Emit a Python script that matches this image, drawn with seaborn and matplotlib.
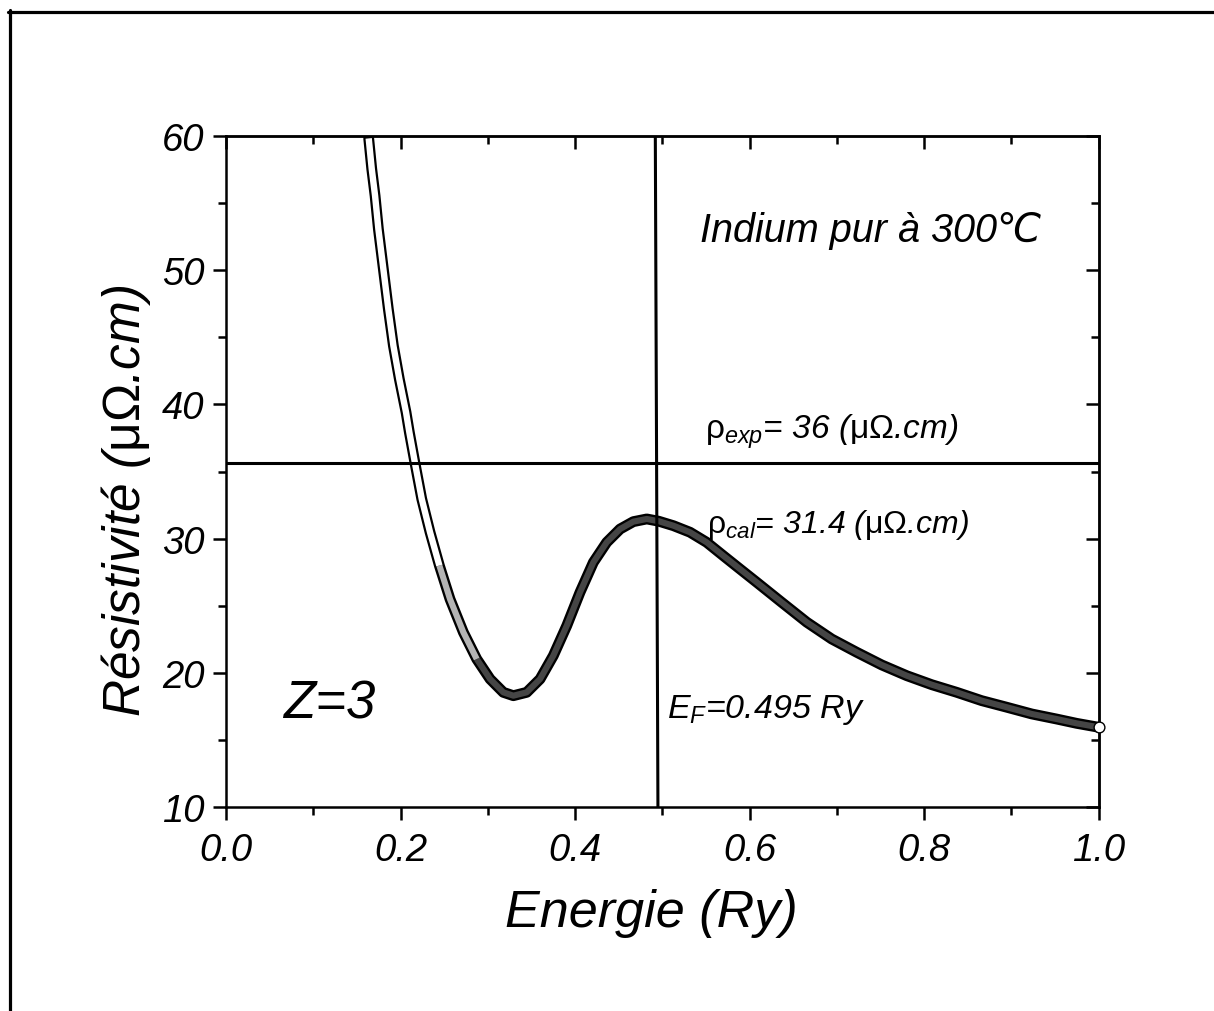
import seaborn as sns; import matplotlib.pyplot as plt
import numpy as np; import pandas as pd
from matplotlib.ticker import MultipleLocator, FormatStrFormatter

# values
energy = [0.1635, 0.1670, 0.1708, 0.1746, 0.1803, 0.1860, 0.1918, 0.1986,
          0.2063, 0.2101, 0.2166, 0.2243, 0.2338, 0.2445, 0.2567, 0.2720,
          0.2873, 0.3026, 0.3178, 0.3293, 0.3446, 0.3599, 0.3751, 0.3905,
          0.4057, 0.4210, 0.4363, 0.4516, 0.4668, 0.4822, 0.4960, 0.5127,
          0.5318, 0.5509, 0.5700, 0.5891, 0.6083, 0.6369, 0.6656, 0.6942,
          0.7229, 0.7515, 0.7802, 0.8088, 0.8375, 0.8661, 0.8948, 0.9234,
          0.9521, 0.9750, 1.0]
resist = [59.81, 57.53, 55.54, 53.06, 50.08, 47.10, 44.37, 41.89,
          39.41, 37.92, 35.61, 32.96, 30.48, 28.00, 25.50, 23.03,
          21.04, 19.55, 18.56, 18.31, 18.56, 19.55, 21.29, 23.52,
          26.01, 28.24, 29.73, 30.72, 31.27, 31.47, 31.30, 30.97,
          30.48, 29.73, 28.73, 27.74, 26.75, 25.26, 23.78, 22.53,
          21.54, 20.60, 19.80, 19.13, 18.56, 17.94, 17.45, 16.95,
          16.57, 16.25, 15.96]
rho_exp_line = 35.6
ef_x = [0.492, 0.495]
ef_y = [60, 10]

sns.set_style('ticks')
plt.rcParams['font.family'] = ['Liberation Sans', 'DejaVu Sans']
plt.rcParams['text.color'] = 'black'
plt.rcParams['axes.labelcolor'] = 'black'
plt.rcParams['xtick.color'] = 'black'
plt.rcParams['ytick.color'] = 'black'
plt.rcParams['mathtext.fontset'] = 'custom'
plt.rcParams['mathtext.rm'] = 'Liberation Sans'
plt.rcParams['mathtext.it'] = 'Liberation Sans:italic'

df = pd.DataFrame({'E': energy, 'rho': resist})
light = df[df.E <= 0.2445]
mid = df[(df.E >= 0.2445) & (df.E <= 0.2873)]
dark = df[df.E >= 0.2873]

fig = plt.figure(figsize=(12.14, 10.12), dpi=100)
ax = fig.add_axes([0.1862, 0.2013, 0.7187, 0.6635])

# curve of dense open circles -> drawn as a tube
kw = dict(x='E', y='rho', sort=False, ax=ax, solid_joinstyle='round')
sns.lineplot(data=df, color='black', lw=7.8, solid_capstyle='round', **kw)
sns.lineplot(data=dark, color='#454545', lw=4.4, solid_capstyle='butt', **kw)
sns.lineplot(data=mid, color='#b4b4b4', lw=4.4, solid_capstyle='butt', **kw)
sns.lineplot(data=light, color='white', lw=4.6, solid_capstyle='butt', **kw)
sns.scatterplot(data=df.iloc[[-1]], x='E', y='rho', s=60, facecolor='white',
                edgecolor='black', linewidth=1, clip_on=False, zorder=5, ax=ax)

sns.lineplot(x=[0, 1], y=[rho_exp_line, rho_exp_line], color='black', lw=2.2, ax=ax)
sns.lineplot(x=ef_x, y=ef_y, sort=False, color='black', lw=2.2, ax=ax)

ax.set_xlim(0, 1.0)
ax.set_ylim(10, 60)
ax.xaxis.set_major_locator(MultipleLocator(0.2))
ax.xaxis.set_minor_locator(MultipleLocator(0.1))
ax.xaxis.set_major_formatter(FormatStrFormatter('%.1f'))
ax.yaxis.set_major_locator(MultipleLocator(10))
ax.yaxis.set_minor_locator(MultipleLocator(5))
ax.tick_params(which='both', direction='out', width=1.8, labelsize=27.5)
ax.tick_params(axis='y', pad=6)
ax.tick_params(axis='x', pad=8.5)
ax.tick_params(which='major', length=9.5)
ax.tick_params(which='minor', length=5.5)
for s in ax.spines.values():
    s.set_linewidth(1.8); s.set_color('black')
plt.setp(ax.get_xticklabels() + ax.get_yticklabels(), style='italic')

top = ax.secondary_xaxis('top')
top.xaxis.set_major_locator(MultipleLocator(0.2))
top.xaxis.set_minor_locator(MultipleLocator(0.1))
top.tick_params(which='both', direction='in', width=1.8, labeltop=False)
top.tick_params(which='major', length=9.5)
top.tick_params(which='minor', length=5.5)
right = ax.secondary_yaxis('right')
right.yaxis.set_major_locator(MultipleLocator(10))
right.yaxis.set_minor_locator(MultipleLocator(5))
right.tick_params(which='both', direction='in', width=1.8, labelright=False)
right.tick_params(which='major', length=9.5)
right.tick_params(which='minor', length=5.5)
for a in (top, right):
    for s in a.spines.values():
        s.set_linewidth(1.8)

ax.set_xlabel('Energie (Ry)', fontsize=37.5, style='italic')
ax.xaxis.label.set(va='baseline', ha='center')
ax.xaxis.set_label_coords(0.488, -0.1763)
ax.set_ylabel(r'Résistivité ($\mathrm{\mu\Omega}$.cm)', fontsize=37, style='italic')
ax.yaxis.label.set(va='baseline', ha='center', rotation_mode='anchor')
ax.yaxis.set_label_coords(-0.0986, 0.458)

ax.text(0.543, 52.17, 'Indium pur à 300℃', fontsize=28.5, style='italic',
        ha='left', va='baseline')
ax.text(0.549, 37.55, r'$\mathrm{\rho}_{\mathit{exp}}$= 36 ($\mathrm{\mu\Omega}$.cm)',
        fontsize=24, style='italic', ha='left', va='baseline')
ax.text(0.551, 30.48, r'$\mathrm{\rho}_{\mathit{cal}}$= 31.4 ($\mathrm{\mu\Omega}$.cm)',
        fontsize=23, style='italic', ha='left', va='baseline')
ax.text(0.5054, 16.7, r'$\mathit{E}_{\mathit{F}}$=0.495 Ry', fontsize=24.5,
        style='italic', ha='left', va='baseline')
ax.text(0.0657, 16.72, 'Z=3', fontsize=38, style='italic', ha='left', va='baseline')

# frame of the page (top and left edges only)
fig.add_artist(plt.Line2D([8 / 1214, 1], [1 - 12.5 / 1012] * 2, color='black', lw=2.3))
fig.add_artist(plt.Line2D([9.5 / 1214] * 2, [0, 1 - 11 / 1012], color='black', lw=2.3))

plt.savefig('out.png', dpi=100)
